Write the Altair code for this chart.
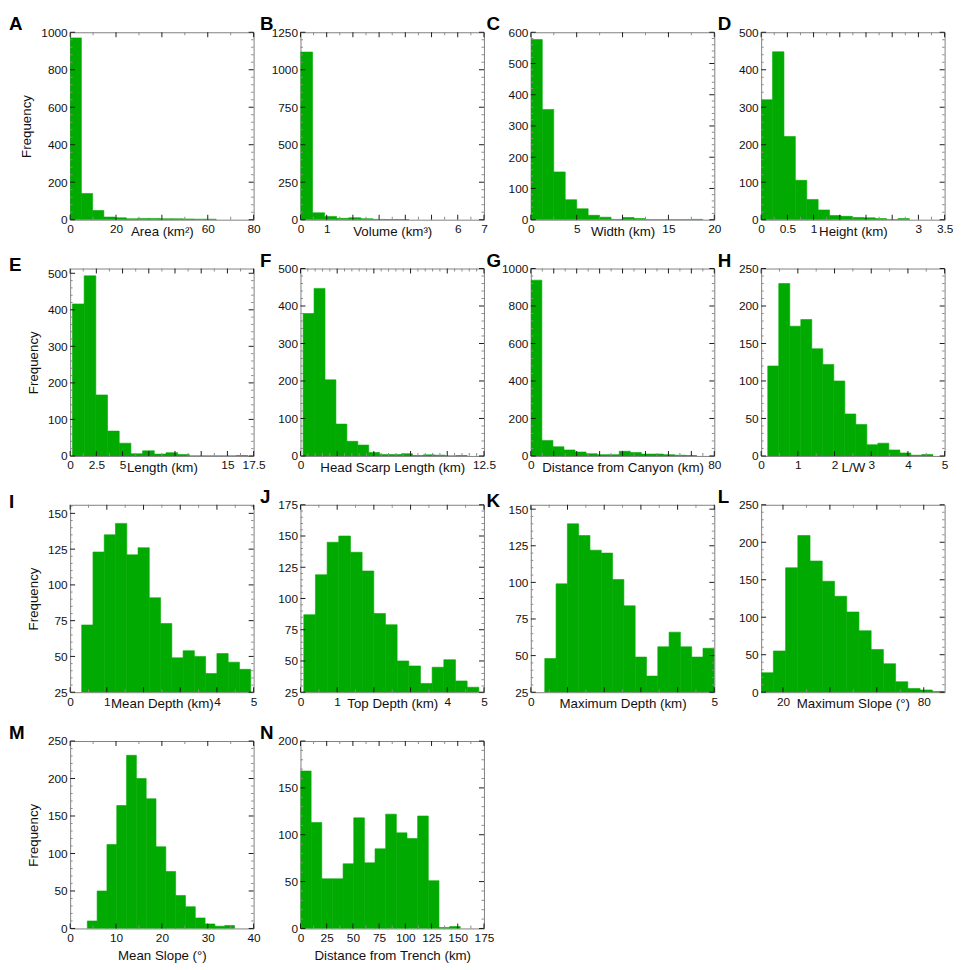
import altair as alt
import numpy as np
import pandas as pd

# ---------------- data ----------------
letters = ["A", "B", "C", "D", "E", "F", "G", "H", "I", "J", "K", "L", "M", "N"]
x_titles = ["Area (km²)", "Volume (km³)", "Width (km)", "Height (km)",
            "Length (km)", "Head Scarp Length (km)", "Distance from Canyon (km)", "L/W",
            "Mean Depth (km)", "Top Depth (km)", "Maximum Depth (km)", "Maximum Slope (°)",
            "Mean Slope (°)", "Distance from Trench (km)"]

counts_A = [970, 140, 49, 14, 10, 5, 7, 7, 5, 5, 4, 3, 3]
counts_B = [1118, 46, 22, 9, 13, 7, 2, 1, 1]
counts_C = [577, 353, 153, 64, 35, 14, 8, 1, 7, 4, 0, 0, 0, 0, 1]
counts_D = [320, 448, 222, 105, 54, 26, 11, 9, 6, 5, 3, 0, 3]
counts_E = [416, 493, 167, 68, 35, 6, 14, 5, 9, 4, 0, 0, 0, 0, 1]
counts_F = [380, 447, 203, 85, 39, 29, 9, 4, 4, 6, 1, 3, 2, 0, 1]
counts_G = [938, 83, 49, 32, 21, 12, 7, 7, 25, 18, 10, 10, 7, 4, 2]
counts_H = [120, 230, 173, 182, 143, 122, 100, 56, 42, 15, 17, 8, 4, 1, 2]
counts_I = [72, 123, 135, 143, 121, 126, 91, 73, 49, 54, 50, 38, 52, 46, 41]
counts_J = [87, 119, 145, 150, 137, 122, 88, 79, 50, 46, 32, 45, 51, 34, 29]
counts_K = [48, 99, 140, 132, 122, 120, 102, 84, 49, 36, 56, 66, 56, 49, 55]
counts_L = [26, 55, 166, 209, 175, 148, 128, 107, 82, 57, 38, 14, 5, 3, 1]
counts_M = [10, 50, 112, 164, 231, 200, 173, 109, 76, 44, 29, 14, 6, 3, 4]
counts_N = [168, 113, 53, 53, 69, 118, 70, 85, 122, 102, 96, 120, 51, 1, 2]
counts = [counts_A, counts_B, counts_C, counts_D, counts_E, counts_F, counts_G,
          counts_H, counts_I, counts_J, counts_K, counts_L, counts_M, counts_N]

# first bin edge and bin width of each histogram
bin_start = [0, 0, 0, 0, 0.22, 0.18, 0, 0.18, 0.315, 0.09, 0.38, 10.7, 3.74, 0]
bin_width = [4.9, 0.46, 1.25, 0.2175, 1.115, 0.745, 4.82, 0.3, 0.307, 0.318, 0.308, 5.21, 2.14, 10.16]

x_domains = [[0, 80], [0, 7], [0, 20], [0, 3.5], [0, 17.5], [0, 12.5], [0, 80], [0, 5],
             [0, 5], [0, 5], [0, 5], [10.7, 88.9], [0, 40], [0, 175]]
y_domains = [[0, 1000], [0, 1250], [0, 600], [0, 500], [0, 513], [0, 500], [0, 1000], [0, 250],
             [25, 156], [25, 175], [25, 153], [0, 250], [0, 250], [0, 200]]

# x tick labels that are visible in the reference
x_labels_shown = [[0, 20, 60, 80], [0, 1, 6, 7], [0, 5, 15, 20], [0, 0.5, 1, 3, 3.5],
                  [0, 2.5, 5, 15, 17.5], [0, 12.5], [0, 80], [0, 1, 2, 3, 4, 5],
                  [0, 1, 4, 5], [0, 1, 4, 5], [0, 5], [20, 80], [0, 10, 20, 30, 40],
                  [0, 25, 50, 75, 100, 125, 150, 175]]

# tick steps (major, minor) for x and y
x_major = [20, 1, 5, 0.5, 2.5, 2.5, 10, 1, 1, 1, 1, 20, 10, 25]
x_minor = [10, 0.5, 2.5, 0.25, 1.25, 0.5, 5, 0.5, 0.5, 0.5, 0.5, 10, 5, 12.5]
y_major = [200, 250, 100, 100, 100, 100, 200, 50, 25, 25, 25, 50, 50, 50]
y_minor = [40, 50, 20, 20, 20, 20, 40, 10, 5, 5, 5, 10, 10, 10]

# ---------------- styling ----------------
FONT = "Liberation Sans"
W, H = 186, 190
FILL = "#00aa00"
TICK = "#1a1a1a"
MINOR = "#8a8a8a"
MAJ_LEN, MIN_LEN = 5, 2.5
letter_dx = [-62, -41, -45, -44]


def grid(lo, hi, step):
    k0 = int(np.ceil(lo / step - 1e-9))
    k1 = int(np.floor(hi / step + 1e-9))
    return [round(k * step, 6) for k in range(k0, k1 + 1)]


def panel(i):
    row, col = divmod(i, 4)
    c = counts[i]
    s, w = bin_start[i], bin_width[i]
    df = pd.DataFrame({
        "x0": [round(s + k * w, 5) for k in range(len(c))],
        "x1": [round(s + (k + 1) * w, 5) for k in range(len(c))],
        "n": c,
    })
    xd, yd = x_domains[i], y_domains[i]
    xs = alt.Scale(domain=xd, nice=False, zero=False)
    ys = alt.Scale(domain=yd, nice=False, zero=False)
    xmaj = grid(xd[0], xd[1], x_major[i])
    xmin = [v for v in grid(xd[0], xd[1], x_minor[i]) if v not in xmaj]
    ymaj = grid(yd[0], yd[1], y_major[i])
    ymin = [v for v in grid(yd[0], yd[1], y_minor[i]) if v not in ymaj]
    shown = "[" + ",".join(repr(float(v)) for v in x_labels_shown[i]) + "]"
    label_expr = f"indexof({shown}, datum.value) >= 0 ? '' + datum.value : ''"

    x_lab = alt.Axis(orient="bottom", values=xmaj, ticks=False, domain=False, grid=False,
                     labelExpr=label_expr, labelFont=FONT, labelFontSize=12, labelColor="#111",
                     labelPadding=4, labelFlush=False, labelOverlap=False,
                     title=x_titles[i], titleFont=FONT, titleFontSize=13.5,
                     titleFontWeight="normal", titleColor="#111",
                     titleY=(20 if row == 3 else 5), titleBaseline="top")
    y_kw = dict(orient="left", values=ymaj, ticks=False, domain=False, grid=False, format="d",
                labelFont=FONT, labelFontSize=12, labelColor="#111", labelPadding=3,
                labelFlush=False, labelOverlap=False)
    if col == 0:
        y_lab = alt.Axis(title="Frequency", titleFont=FONT, titleFontSize=13.5,
                         titleFontWeight="normal", titleColor="#111", titlePadding=7, **y_kw)
    else:
        y_lab = alt.Axis(title=None, **y_kw)

    bars = alt.Chart(df).mark_bar(fill=FILL, stroke=FILL, strokeWidth=0.6, clip=True).encode(
        x=alt.X("x0:Q", scale=xs, axis=x_lab),
        x2="x1:Q",
        y=alt.Y("n:Q", scale=ys, axis=y_lab),
        y2=alt.datum(yd[0]),
    )

    layers = [bars]

    def xticks(vals, length, color):
        if not vals:
            return
        d = pd.DataFrame({"v": vals})
        for y0, y1 in ((H, H - length), (0, length)):
            layers.append(alt.Chart(d).mark_rule(color=color, strokeWidth=1).encode(
                x=alt.X("v:Q", scale=xs, axis=None),
                y=alt.value(y0), y2=alt.value(y1)))

    def yticks(vals, length, color):
        if not vals:
            return
        d = pd.DataFrame({"v": vals})
        for x0, x1 in ((0, length), (W, W - length)):
            layers.append(alt.Chart(d).mark_rule(color=color, strokeWidth=1).encode(
                y=alt.Y("v:Q", scale=ys, axis=None),
                x=alt.value(x0), x2=alt.value(x1)))

    xticks(xmin, MIN_LEN + 0.5, MINOR)
    yticks(ymin, MIN_LEN, MINOR)
    xticks(xmaj, MAJ_LEN, TICK)
    yticks(ymaj, MAJ_LEN, TICK)

    return alt.layer(*layers).resolve_axis(x="independent", y="independent").properties(
        width=W, height=H,
        title=alt.TitleParams(text=letters[i], anchor="start", frame="group", dx=letter_dx[col],
                              fontSize=19, fontWeight="bold", font=FONT, color="#000",
                              offset=-8),
    )


chart = alt.concat(*[panel(i) for i in range(14)], columns=4,
                   spacing={"row": 49.5, "column": 47.5}, bounds="flush").configure_view(
    stroke="#808080", strokeWidth=1
).properties(padding={"left": 0, "top": 0, "right": 0, "bottom": 0})

chart.save("out.html", embed_options={"renderer": "svg", "actions": False})
